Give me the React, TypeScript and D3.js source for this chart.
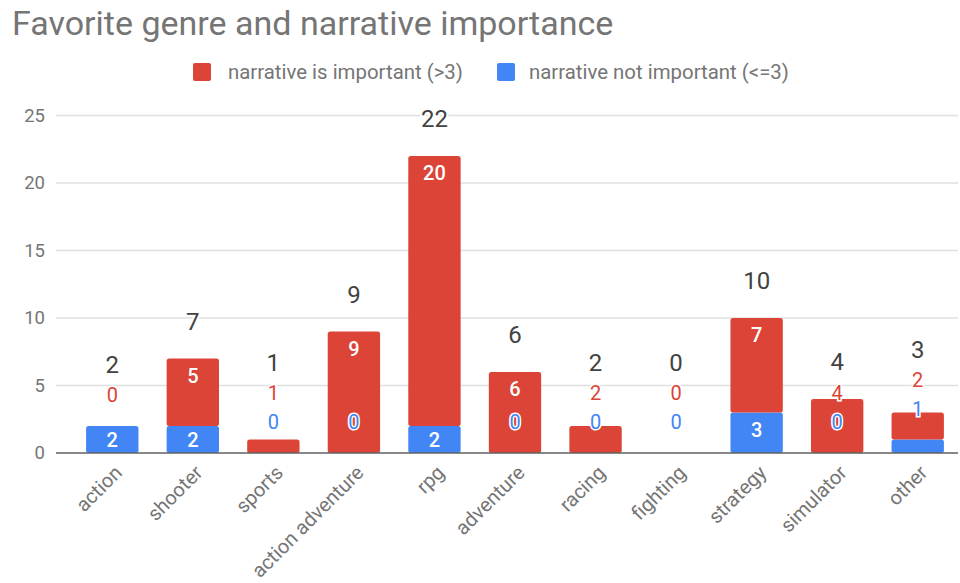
import React from "react";
import * as d3 from "d3";

const categories = ["action", "shooter", "sports", "action adventure", "rpg", "adventure", "racing", "fighting", "strategy", "simulator", "other"];
const important = [0, 5, 1, 9, 20, 6, 2, 0, 7, 4, 2];
const notImportant = [2, 2, 0, 0, 2, 0, 0, 0, 3, 0, 1];
const yTicks = [0, 5, 10, 15, 20, 25];
const seriesNames = ["narrative is important (>3)", "narrative not important (<=3)"];

const RED = "#db4437";
const BLUE = "#4285f4";
const FONT = "Roboto, sans-serif";

const W = 960;
const H = 583;

export default function App() {
  const x = d3.scaleBand<string>().domain(categories).range([72, 958]).paddingInner(0.35).paddingOuter(0.175);
  const y = d3.scaleLinear().domain([0, 25]).range([453, 115.5]);
  const bw = x.bandwidth();

  const marks: React.ReactNode[] = [];
  const labels: React.ReactNode[] = [];

  const inside = (key: string, cx: number, ly: number, v: number) => (
    <text key={key} x={cx} y={ly} fill="#fff" fontSize={20} fontWeight={500} textAnchor="middle" dominantBaseline="central" fontFamily={FONT}>{v}</text>
  );
  const outside = (key: string, cx: number, ly: number, v: number, color: string) => (
    <text key={key} x={cx} y={ly} fill={color} stroke="#fff" strokeWidth={3} paintOrder="stroke" fontSize={20} textAnchor="middle" dominantBaseline="central" fontFamily={FONT}>{v}</text>
  );

  categories.forEach((cat, i) => {
    const x0 = x(cat) as number;
    const cx = x0 + bw / 2;
    const b = notImportant[i];
    const r = important[i];
    const yB0 = y(0);
    const yB1 = y(b);
    const yR1 = y(b + r);
    if (b > 0) marks.push(<rect key={"b" + i} x={x0} y={yB1} width={bw} height={yB0 - yB1} fill={BLUE} rx={2.5} />);
    if (r > 0) marks.push(<rect key={"r" + i} x={x0} y={yR1} width={bw} height={yB1 - yR1} fill={RED} rx={2.5} />);

    let cursor: number | null = null;
    if (b >= 2) {
      labels.push(inside("lb" + i, cx, Math.min(yB1 + 17, (yB1 + yB0) / 2), b));
    } else {
      cursor = yB1 - 31;
      labels.push(outside("lb" + i, cx, cursor, b, BLUE));
    }
    const insideY = Math.min(yR1 + 17, (yR1 + yB1) / 2);
    if (r >= 2 && (cursor === null || cursor - insideY >= 24)) {
      labels.push(inside("lr" + i, cx, insideY, r));
    } else {
      const ly = cursor !== null ? cursor - 29 : yR1 - 31;
      cursor = ly;
      labels.push(outside("lr" + i, cx, ly, r, RED));
    }
    const ty = Math.min(cursor !== null ? cursor - 30 : Infinity, yR1 - 37);
    labels.push(
      <text key={"lt" + i} x={cx} y={ty} fill="#424242" stroke="#fff" strokeWidth={4} paintOrder="stroke" fontSize={24} textAnchor="middle" dominantBaseline="central" fontFamily={FONT}>{b + r}</text>
    );
  });

  return (
    <svg width={W} height={H} style={{ position: "absolute", left: 0, top: 0, background: "#fff" }}>
      <text x={12} y={35} fill="#757575" fontSize={34} fontFamily={FONT}>Favorite genre and narrative importance</text>
      <rect x={193} y={63} width={18} height={18} rx={2} fill={RED} />
      <text x={228} y={72} fill="#757575" fontSize={20.4} dominantBaseline="central" fontFamily={FONT}>{seriesNames[0]}</text>
      <rect x={497} y={63} width={18} height={18} rx={2} fill={BLUE} />
      <text x={529} y={72} fill="#757575" fontSize={20.4} dominantBaseline="central" fontFamily={FONT}>{seriesNames[1]}</text>
      {yTicks.map((t) => (
        <g key={"g" + t}>
          {t !== 0 && <line x1={56} x2={958} y1={y(t)} y2={y(t)} stroke="#e0e0e0" strokeWidth={1.5} />}
          <text x={45} y={y(t)} fill="#757575" fontSize={18.5} textAnchor="end" dominantBaseline="central" fontFamily={FONT}>{t}</text>
        </g>
      ))}
      {marks}
      <line x1={56} x2={958} y1={y(0)} y2={y(0)} stroke="#616161" strokeWidth={1.5} />
      {labels}
      {categories.map((cat) => {
        const cx = (x(cat) as number) + bw / 2 + 6;
        const ty = 469;
        return (
          <text key={"x" + cat} x={cx} y={ty} transform={`rotate(-45 ${cx} ${ty})`} fill="#757575" fontSize={20} textAnchor="end" dominantBaseline="central" fontFamily={FONT}>{cat}</text>
        );
      })}
    </svg>
  );
}
